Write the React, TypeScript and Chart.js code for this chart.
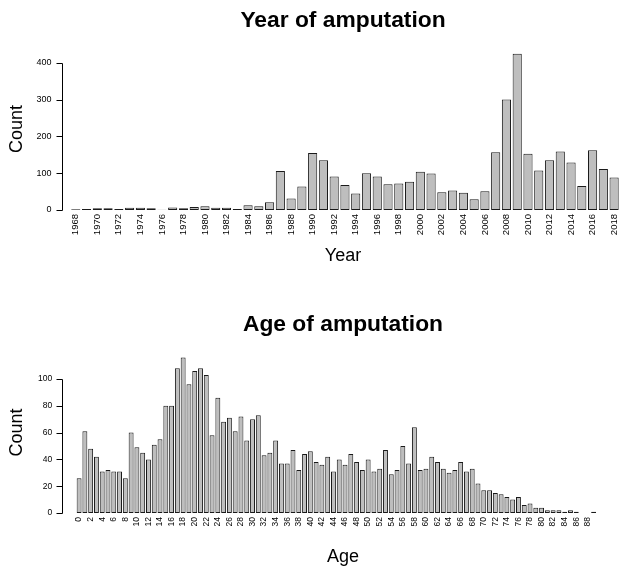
import React, { useEffect, useRef } from "react";
import { Chart, registerables } from "chart.js";

Chart.register(...registerables);

// ---------- Data ----------
const yearLabels = [
  "1968", "1969", "1970", "1971", "1972", "1973", "1974", "1975", "1976", "1977",
  "1978", "1979", "1980", "1981", "1982", "1983", "1984", "1985", "1986", "1987",
  "1988", "1989", "1990", "1991", "1992", "1993", "1994", "1995", "1996", "1997",
  "1998", "1999", "2000", "2001", "2002", "2003", "2004", "2005", "2006", "2007",
  "2008", "2009", "2010", "2011", "2012", "2013", "2014", "2015", "2016", "2017",
  "2018",
];
const yearCounts = [
  2, 3, 5, 5, 3, 6, 6, 5, 1, 7,
  5, 8, 10, 6, 6, 3, 13, 10, 21, 106,
  31, 64, 155, 135, 91, 68, 45, 100, 91, 70,
  72, 77, 104, 99, 48, 53, 47, 29, 51, 157,
  300, 424, 153, 107, 135, 159, 129, 65, 162, 111,
  88,
];
const yearYTicks = [0, 100, 200, 300, 400];

const ageLabels = [
  "0", "1", "2", "3", "4", "5", "6", "7", "8", "9",
  "10", "11", "12", "13", "14", "15", "16", "17", "18", "19",
  "20", "21", "22", "23", "24", "25", "26", "27", "28", "29",
  "30", "31", "32", "33", "34", "35", "36", "37", "38", "39",
  "40", "41", "42", "43", "44", "45", "46", "47", "48", "49",
  "50", "51", "52", "53", "54", "55", "56", "57", "58", "59",
  "60", "61", "62", "63", "64", "65", "66", "67", "68", "69",
  "70", "71", "72", "73", "74", "75", "76", "77", "78", "79",
  "80", "81", "82", "83", "84", "85", "86", "87", "88", "89",
];
const ageCounts = [
  26, 61, 48, 42, 31, 32, 31, 31, 26, 60,
  49, 45, 40, 51, 55, 80, 80, 108, 116, 96,
  106, 108, 103, 58, 86, 68, 71, 61, 72, 54,
  70, 73, 43, 45, 54, 37, 37, 47, 32, 44,
  46, 38, 36, 42, 31, 40, 36, 44, 38, 32,
  40, 31, 33, 47, 29, 32, 50, 37, 64, 32,
  33, 42, 38, 33, 30, 32, 38, 31, 33, 22,
  17, 17, 15, 14, 12, 10, 12, 6, 7, 4,
  4, 2, 2, 2, 1, 2, 1, 0, 0, 1,
];
const ageYTicks = [0, 20, 40, 60, 80, 100];

// ---------- Chart helpers ----------
const FONT = '"Liberation Sans", Arial, Helvetica, sans-serif';
Chart.defaults.font.family = FONT;
Chart.defaults.color = "#000";

const rAxisPlugin = {
  id: "rAxis",
  afterDraw(chart: any, _args: any, opts: any) {
    const y = chart.scales.y;
    const ctx = chart.ctx;
    const vals: number[] = y.ticks.map((t: any) => t.value);
    const x = opts.x;
    const len = opts.len;
    ctx.save();
    ctx.strokeStyle = "#000";
    ctx.lineWidth = 1;
    ctx.beginPath();
    const p0 = Math.round(y.getPixelForValue(Math.min(...vals))) + 0.5;
    const p1 = Math.round(y.getPixelForValue(Math.max(...vals))) + 0.5;
    ctx.moveTo(x, p0);
    ctx.lineTo(x, p1);
    vals.forEach((v) => {
      const py = Math.round(y.getPixelForValue(v)) + 0.5;
      ctx.moveTo(x - len, py);
      ctx.lineTo(x, py);
    });
    ctx.stroke();
    ctx.restore();
  },
};

interface Layout {
  width: number;
  height: number;
  rightSpace: number;
  yWidth: number;
  yLabelPad: number;
  xHeight: number;
  yMax: number;
  titlePadTop: number;
  titlePadBottom: number;
  xTitlePadBottom: number;
  tickFont: number;
  xTickFont: number;
  barPct: number;
  axisX: number;
}

function makeChart(
  canvas: HTMLCanvasElement,
  labels: string[],
  values: number[],
  yTicks: number[],
  title: string,
  xTitle: string,
  L: Layout
) {
  return new Chart(canvas, {
    type: "bar",
    data: {
      labels,
      datasets: [
        {
          data: values,
          backgroundColor: "#BEBEBE",
          borderColor: "#1a1a1a",
          borderWidth: 1,
          borderSkipped: false,
          barPercentage: L.barPct,
          categoryPercentage: 1,
          yAxisID: "y",
        },
      ],
    },
    plugins: [rAxisPlugin],
    options: {
      responsive: false,
      animation: false,
      events: [],
      layout: { padding: 0 },
      plugins: {
        legend: { display: false },
        tooltip: { enabled: false },
        title: {
          display: true,
          text: title,
          color: "#000",
          font: { size: 22.8, weight: "bold", family: FONT, lineHeight: 1.2 },
          padding: { top: L.titlePadTop, bottom: L.titlePadBottom },
        },
        // x-axis title, centred on the full figure like the original
        subtitle: {
          display: true,
          position: "bottom",
          text: xTitle,
          color: "#000",
          font: { size: 18, weight: "normal", family: FONT, lineHeight: 1.2 },
          padding: { top: 0, bottom: L.xTitlePadBottom },
        },
        rAxis: { x: L.axisX, len: 6 },
      } as any,
      scales: {
        x: {
          offset: true,
          grid: { display: false, drawTicks: false },
          border: { display: false },
          ticks: {
            autoSkip: false,
            minRotation: 90,
            maxRotation: 90,
            padding: 4,
            color: "#000",
            font: { size: L.xTickFont },
            callback: function (this: any, val: any, idx: number) {
              return idx % 2 === 0 ? this.getLabelForValue(val) : "";
            },
          },
          afterFit: (s: any) => {
            s.height = L.xHeight;
          },
        },
        y: {
          min: 0,
          max: L.yMax,
          grid: { display: false, drawTicks: false },
          border: { display: false },
          afterBuildTicks: (s: any) => {
            s.ticks = yTicks.map((v) => ({ value: v }));
          },
          ticks: {
            padding: L.yLabelPad,
            color: "#000",
            font: { size: L.tickFont },
          },
          title: {
            display: true,
            text: "Count",
            color: "#000",
            font: { size: 18, lineHeight: 1.2 },
            padding: { top: 6, bottom: 0 },
          },
          afterFit: (s: any) => {
            s.width = L.yWidth;
          },
        },
        // empty spacer on the right so that the full-width titles centre like the original
        spacer: {
          type: "linear",
          position: "right",
          display: true,
          grid: { display: false, drawTicks: false },
          border: { display: false },
          ticks: { display: false },
          afterFit: (s: any) => {
            s.width = L.rightSpace;
          },
        },
      },
    } as any,
  });
}

const topLayout: Layout = {
  width: 686,
  height: 290,
  rightSpace: 66.5,
  yWidth: 70.4,
  yLabelPad: 19,
  xHeight: 35.7,
  yMax: 440,
  titlePadTop: 6.6,
  titlePadBottom: 14.0,
  xTitlePadBottom: 22.7,
  tickFont: 9,
  xTickFont: 9.5,
  barPct: 0.85,
  axisX: 62.5,
};

const bottomLayout: Layout = {
  width: 686,
  height: 282,
  rightSpace: 89.5,
  yWidth: 76.2,
  yLabelPad: 24,
  xHeight: 33.2,
  yMax: 120,
  titlePadTop: 21.1,
  titlePadBottom: 13.7,
  xTitlePadBottom: 4.2,
  tickFont: 8.5,
  xTickFont: 8.5,
  barPct: 0.85,
  axisX: 62.5,
};

export default function App() {
  const topRef = useRef<HTMLCanvasElement | null>(null);
  const botRef = useRef<HTMLCanvasElement | null>(null);

  useEffect(() => {
    const c1 = makeChart(topRef.current!, yearLabels, yearCounts, yearYTicks, "Year of amputation", "Year", topLayout);
    const c2 = makeChart(botRef.current!, ageLabels, ageCounts, ageYTicks, "Age of amputation", "Age", bottomLayout);
    return () => {
      c1.destroy();
      c2.destroy();
    };
  }, []);

  return (
    <div
      style={{
        position: "absolute",
        left: 0,
        top: 0,
        width: 619,
        height: 572,
        overflow: "hidden",
        background: "#fff",
      }}
    >
      <canvas
        ref={topRef}
        width={topLayout.width}
        height={topLayout.height}
        style={{ position: "absolute", left: 0, top: 0, width: topLayout.width, height: topLayout.height }}
      />
      <canvas
        ref={botRef}
        width={bottomLayout.width}
        height={bottomLayout.height}
        style={{ position: "absolute", left: 0, top: 290, width: bottomLayout.width, height: bottomLayout.height }}
      />
    </div>
  );
}
